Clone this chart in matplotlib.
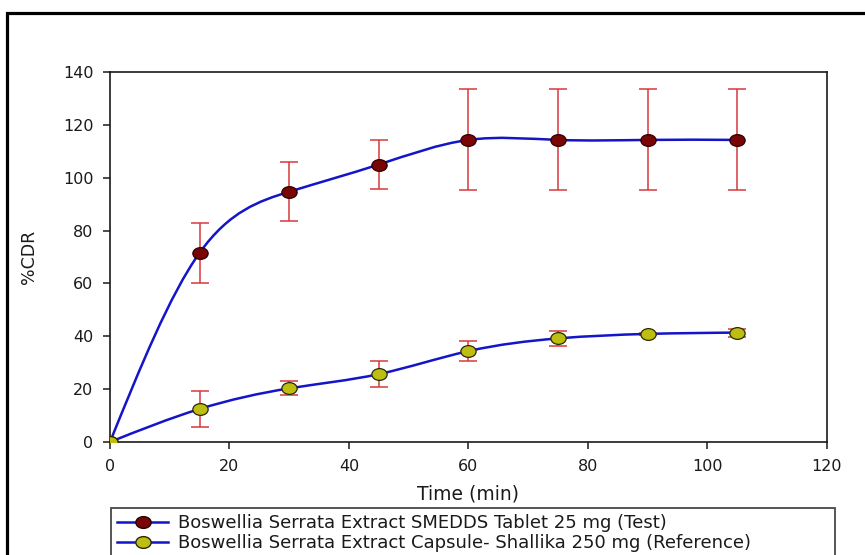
import matplotlib
matplotlib.use("Agg")
import matplotlib.pyplot as plt
import numpy as np
from matplotlib.lines import Line2D
from matplotlib.patches import PathPatch, Rectangle
from matplotlib.path import Path
from matplotlib.transforms import Affine2D

plt.rcParams["font.family"] = ["DejaVu Sans"]

# data
time_min = [0, 15, 30, 45, 60, 75, 90, 105]
test_cdr = [0, 71.6, 94.7, 105.0, 114.3, 114.3, 114.3, 114.3]
test_err = [0, 11.4, 11.1, 9.3, 19.1, 19.1, 19.1, 19.1]
ref_cdr = [0, 12.5, 20.3, 25.7, 34.4, 39.2, 40.9, 41.4]
ref_err = [0, 6.9, 2.7, 4.8, 3.7, 2.9, 0.5, 1.5]

test_label = "Boswellia Serrata Extract SMEDDS Tablet 25 mg (Test)"
ref_label = "Boswellia Serrata Extract Capsule- Shallika 250 mg (Reference)"

LINE = "#1414c8"
ERR = "#d8383c"
RED_FILL = "#7a0505"
GREEN_FILL = "#bdbd12"
TXT = "#1a1a1a"

# the source picture is a bit stretched sideways, so the dots are oval
oval = Path.unit_circle().transformed(Affine2D().scale(1.3, 1.0))


def spline_path(x, y):
    # natural cubic spline written as bezier segments
    x = np.asarray(x, float)
    y = np.asarray(y, float)
    n = len(x)
    h = np.diff(x)
    A = np.zeros((n, n))
    b = np.zeros(n)
    A[0, 0] = A[-1, -1] = 1
    for i in range(1, n - 1):
        A[i, i - 1] = h[i - 1]
        A[i, i] = 2 * (h[i - 1] + h[i])
        A[i, i + 1] = h[i]
        b[i] = 6 * ((y[i + 1] - y[i]) / h[i] - (y[i] - y[i - 1]) / h[i - 1])
    M = np.linalg.solve(A, b)
    slope = np.zeros(n)
    for i in range(n - 1):
        slope[i] = (y[i + 1] - y[i]) / h[i] - h[i] * (2 * M[i] + M[i + 1]) / 6
    slope[-1] = (y[-1] - y[-2]) / h[-1] + h[-1] * (M[-2] + 2 * M[-1]) / 6
    verts = [(x[0], y[0])]
    codes = [Path.MOVETO]
    for i in range(n - 1):
        d = h[i] / 3
        verts += [(x[i] + d, y[i] + d * slope[i]),
                  (x[i + 1] - d, y[i + 1] - d * slope[i + 1]),
                  (x[i + 1], y[i + 1])]
        codes += [Path.CURVE4] * 3
    return Path(verts, codes)


fig = plt.figure(figsize=(8.65, 5.55), dpi=100)
ax = fig.add_axes([110 / 865, 1 - 442 / 555, 717 / 865, 370 / 555])

for cdr, err in [(test_cdr, test_err), (ref_cdr, ref_err)]:
    ax.errorbar(time_min[1:], cdr[1:], yerr=err[1:], fmt="none", ecolor=ERR,
                elinewidth=1.1, capsize=6.5, capthick=1.1, zorder=2)

for cdr in [test_cdr, ref_cdr]:
    ax.add_patch(PathPatch(spline_path(time_min, cdr), facecolor="none",
                           edgecolor=LINE, lw=1.8, zorder=3))

ax.plot(time_min, test_cdr, ls="none", marker=oval, ms=11, mfc=RED_FILL,
        mec="#2a0000", mew=0.9, zorder=4)
ax.plot(time_min, ref_cdr, ls="none", marker=oval, ms=11, mfc=GREEN_FILL,
        mec="#2a2a00", mew=0.9, zorder=5)

ax.set_xlim(0, 120)
ax.set_ylim(0, 140)
ax.set_xticks(range(0, 121, 20))
ax.set_yticks(range(0, 141, 20))
ax.tick_params(direction="out", length=5, width=1.1, labelsize=11.5,
               colors=TXT, pad=7)
for s in ax.spines.values():
    s.set_linewidth(1.2)
    s.set_color(TXT)

ax.set_xlabel("Time (min)", fontsize=13.5, color=TXT, labelpad=8)
ax.set_ylabel("%CDR", fontsize=12.5, color=TXT, labelpad=18)

handles = [
    Line2D([], [], color=LINE, lw=1.8, marker=oval, ms=11, mfc=RED_FILL, mec="#2a0000"),
    Line2D([], [], color=LINE, lw=1.8, marker=oval, ms=11, mfc=GREEN_FILL, mec="#2a2a00"),
]
leg = fig.legend(handles, [test_label, ref_label], loc="upper left",
                 bbox_to_anchor=(111 / 865, -0.2, 724 / 865, 1 - 508 / 555 + 0.2),
                 mode="expand", fontsize=13, frameon=True, fancybox=False,
                 edgecolor=TXT, handlelength=2.8, handletextpad=0.55,
                 labelspacing=0.1, borderaxespad=0, borderpad=0.35)
leg.get_frame().set_linewidth(1.3)
for t in leg.get_texts():
    t.set_color(TXT)

# outer border of the figure
fig.add_artist(Rectangle((7.5 / 865, -0.1), 1.0, 1.1 - 13.5 / 555,
                         transform=fig.transFigure, fill=False,
                         edgecolor="black", lw=2.3))

fig.savefig("out.png", dpi=100)
